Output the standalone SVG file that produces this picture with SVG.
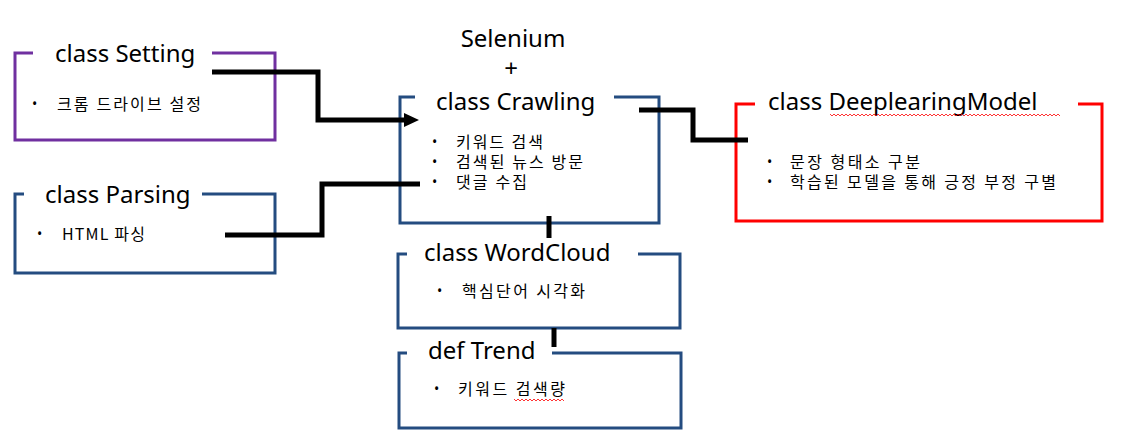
<svg xmlns="http://www.w3.org/2000/svg" width="1142" height="445" viewBox="0 0 1142 445">
<style>
.bg{fill:#ffffff}
.box{fill:none;stroke-width:3;stroke-linejoin:miter}
.purple{stroke:#7030A0}
.blue{stroke:#244C80}
.red{stroke:#FF0000}
.title{font-family:"Noto Sans","Noto Sans CJK KR",sans-serif;font-size:24px;fill:#000}
.item{font-family:"Noto Sans CJK KR","Noto Sans",sans-serif;font-size:16px;fill:#000}
.bullet{font-family:"Noto Sans",sans-serif;font-size:14px;fill:#000}
.conn{fill:none;stroke:#000;stroke-width:5;stroke-linejoin:miter}
.wavy{fill:none;stroke:#FF0000;stroke-width:0.8}
</style>
<rect class="bg" x="0" y="0" width="1142" height="445"/>

<g id="setting">
<path class="box purple" d="M33,53 H15 V140 H275 V53 H212"/>
<text class="title" x="55" y="62">class Setting</text>
<text class="bullet" x="32" y="109">•</text>
<text class="item" x="57" y="110" textLength="144">크롬 드라이브 설정</text>
</g>

<g id="parsing">
<path class="box blue" d="M24,194 H15 V273 H275 V194 H202"/>
<text class="title" x="45" y="203">class Parsing</text>
<text class="bullet" x="37" y="239">•</text>
<text class="item" x="62" y="240" textLength="83">HTML 파싱</text>
</g>

<g id="crawling">
<text class="title" x="513" y="47" text-anchor="middle">Selenium</text>
<text class="title" x="511" y="77" text-anchor="middle">+</text>
<path class="box blue" d="M415,97 H400 V223 H659 V97 H614"/>
<text class="title" x="436" y="110">class Crawling</text>
<text class="bullet" x="432" y="147">•</text>
<text class="item" x="456" y="148" textLength="87">키워드 검색</text>
<text class="bullet" x="432" y="167">•</text>
<text class="item" x="456" y="168" textLength="127">검색된 뉴스 방문</text>
<text class="bullet" x="432" y="187">•</text>
<text class="item" x="456" y="188" textLength="71">댓글 수집</text>
</g>

<g id="deeplearning">
<path class="box red" d="M755,104 H736 V221 H1102 V104 H1078"/>
<text class="title" x="768" y="110">class DeeplearingModel</text>
<path class="wavy" d="M830,114 l2,2 l2,-2 l2,2 l2,-2 l2,2 l2,-2 l2,2 l2,-2 l2,2 l2,-2 l2,2 l2,-2 l2,2 l2,-2 l2,2 l2,-2 l2,2 l2,-2 l2,2 l2,-2 l2,2 l2,-2 l2,2 l2,-2 l2,2 l2,-2 l2,2 l2,-2 l2,2 l2,-2 l2,2 l2,-2 l2,2 l2,-2 l2,2 l2,-2 l2,2 l2,-2 l2,2 l2,-2 l2,2 l2,-2 l2,2 l2,-2 l2,2 l2,-2 l2,2 l2,-2 l2,2 l2,-2 l2,2 l2,-2 l2,2 l2,-2 l2,2 l2,-2 l2,2 l2,-2 l2,2 l2,-2 l2,2 l2,-2 l2,2 l2,-2 l2,2 l2,-2 l2,2 l2,-2 l2,2 l2,-2 l2,2 l2,-2 l2,2 l2,-2 l2,2 l2,-2 l2,2 l2,-2 l2,2 l2,-2 l2,2 l2,-2 l2,2 l2,-2 l2,2 l2,-2 l2,2 l2,-2 l2,2 l2,-2 l2,2 l2,-2 l2,2 l2,-2 l2,2 l2,-2 l2,2 l2,-2 l2,2 l2,-2 l2,2 l2,-2 l2,2 l2,-2 l2,2 l2,-2 l2,2 l2,-2 l2,2 l2,-2 l2,2 l2,-2 l2,2 l2,-2 l2,2"/>
<text class="bullet" x="767" y="167">•</text>
<text class="item" x="790" y="168" textLength="130">문장 형태소 구분</text>
<text class="bullet" x="767" y="187">•</text>
<text class="item" x="790" y="188" textLength="266">학습된 모델을 통해 긍정 부정 구별</text>
</g>

<g id="wordcloud">
<path class="box blue" d="M407,254 H398 V328 H680 V254 H638"/>
<text class="title" x="424" y="261">class WordCloud</text>
<text class="bullet" x="437" y="296">•</text>
<text class="item" x="462" y="297" textLength="123">핵심단어 시각화</text>
</g>

<g id="trend">
<path class="box blue" d="M407,353 H399 V428 H681 V353 H552"/>
<text class="title" x="428" y="359">def Trend</text>
<text class="bullet" x="434" y="394">•</text>
<text class="item" x="458" y="395" textLength="107">키워드 검색량</text>
<path class="wavy" d="M514,399 l2,2 l2,-2 l2,2 l2,-2 l2,2 l2,-2 l2,2 l2,-2 l2,2 l2,-2 l2,2 l2,-2 l2,2 l2,-2 l2,2 l2,-2 l2,2 l2,-2 l2,2 l2,-2 l2,2 l2,-2 l2,2 l2,-2 l2,2"/>
</g>

<g id="connectors">
<polyline class="conn" points="212,72 318,72 318,120 405,120"/>
<polygon points="404,113 419,120 404,127" fill="#000"/>
<polyline class="conn" points="225,235 322,235 322,184 420,184"/>
<polyline class="conn" points="639,110 693,110 693,140 748,140"/>
<line class="conn" x1="549" y1="216" x2="549" y2="238"/>
<line class="conn" x1="554" y1="328" x2="554" y2="347"/>
</g>
</svg>
